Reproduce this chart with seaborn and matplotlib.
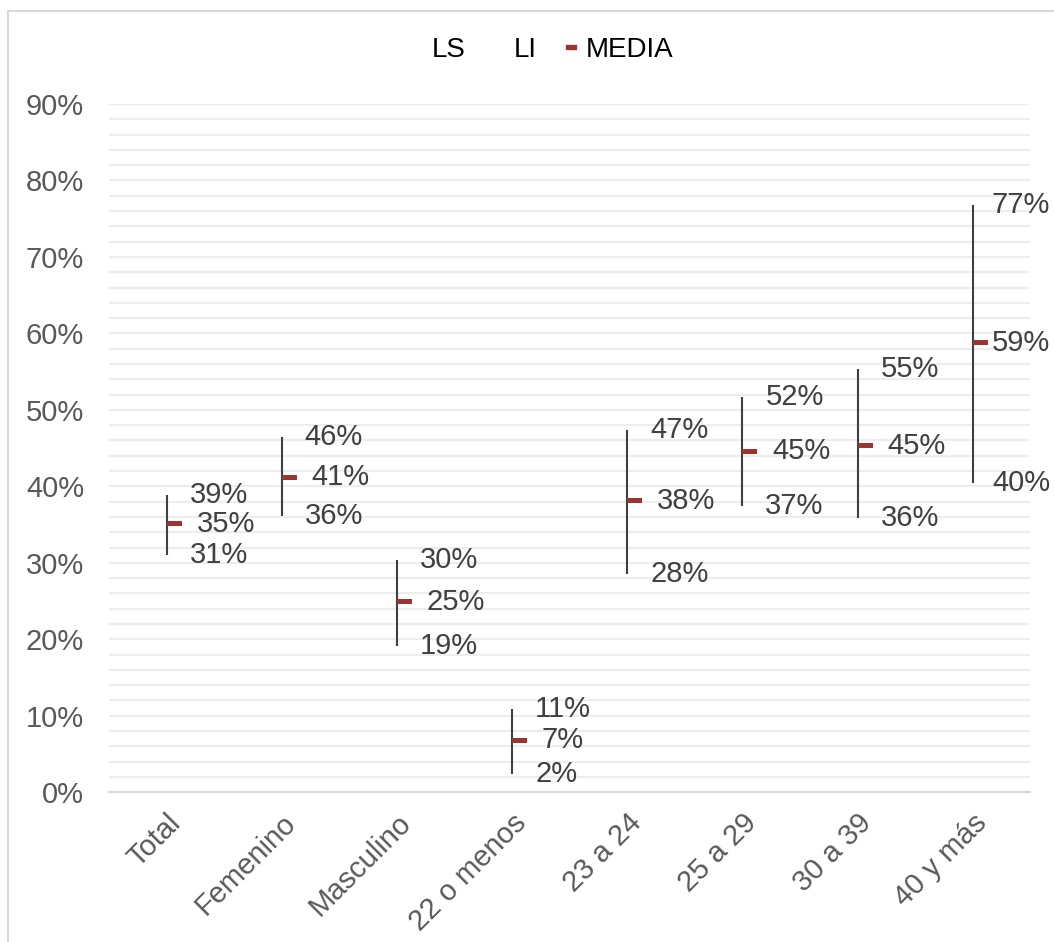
import numpy as np
import pandas as pd
import seaborn as sns
import matplotlib.pyplot as plt
from matplotlib.lines import Line2D
from matplotlib.ticker import MultipleLocator, FuncFormatter

categorias = ['Total', 'Femenino', 'Masculino', '22 o menos', '23 a 24', '25 a 29', '30 a 39', '40 y más']
ls = [0.389, 0.465, 0.304, 0.109, 0.474, 0.517, 0.553, 0.768]
li = [0.310, 0.361, 0.191, 0.024, 0.285, 0.374, 0.359, 0.404]
media = [0.351, 0.412, 0.249, 0.068, 0.381, 0.446, 0.453, 0.588]

df = pd.DataFrame({'cat': categorias, 'LS': ls, 'LI': li, 'MEDIA': media})

sns.set_theme(style='white')
plt.rcParams['font.family'] = ['Liberation Sans', 'DejaVu Sans']

fig = plt.figure(figsize=(10.54, 9.42), dpi=100)
ax = fig.add_axes([0.1035, 0.159, 0.874, 0.7306])

rojo = '#9B3533'
gris_linea = '#404040'
x = np.arange(len(categorias))

# lineas de maximo-minimo
ax.vlines(x, df['LI'], df['LS'], color=gris_linea, linewidth=1.5, zorder=3)

# marcador de la media (guion hacia la derecha de la linea)
guion = [(0, -0.16), (1, -0.16), (1, 0.16), (0, 0.16), (0, -0.16)]
sns.scatterplot(x=x, y=df['MEDIA'], marker=guion, s=470, color=rojo,
                edgecolor='none', ax=ax, zorder=4, legend=False)

# etiquetas
textos = []
for i, row in df.iterrows():
    for col, dx in (('LS', 16.5), ('LI', 16.5), ('MEDIA', 21.5)):
        t = ax.annotate(f"{row[col] * 100:.0f}%", (i, row[col]), xytext=(dx, 0),
                        textcoords='offset points', ha='left', va='center',
                        fontsize=21, color='#404040', zorder=5)
        textos.append(t)

ax.set_xlim(-0.5, len(categorias) - 0.5)
ax.set_ylim(0, 0.9)
ax.yaxis.set_major_locator(MultipleLocator(0.1))
ax.yaxis.set_minor_locator(MultipleLocator(0.02))
ax.yaxis.set_major_formatter(FuncFormatter(lambda v, p: f"{v * 100:.0f}%"))
ax.grid(which='both', axis='y', color='#EDEDED', linewidth=1.6)
ax.set_axisbelow(True)
for s in ('top', 'right', 'left'):
    ax.spines[s].set_visible(False)
ax.spines['bottom'].set_color('#D9D9D9')
ax.spines['bottom'].set_linewidth(1.6)

ax.set_xticks(x)
ax.set_xticklabels(categorias, rotation=45, ha='right', va='top', rotation_mode='anchor')
ax.tick_params(axis='x', length=0, pad=12, labelsize=21, labelcolor='#595959')
ax.tick_params(axis='y', which='both', length=0, pad=18, labelsize=21, labelcolor='#595959')
ax.set_xlabel('')
ax.set_ylabel('')

handles = [Line2D([], [], linestyle='none'),
           Line2D([], [], linestyle='none'),
           Line2D([], [], linestyle='none', color=rojo,
                  marker=[(-1.5, -0.5), (1.5, -0.5), (1.5, 0.5), (-1.5, 0.5), (-1.5, -0.5)],
                  markersize=6.5)]
fig.legend(handles, ['LS', 'LI', 'MEDIA'], loc='center', bbox_to_anchor=(0.514, 0.947),
           ncol=3, frameon=False, fontsize=20, handlelength=0.45, handletextpad=0.3,
           columnspacing=1.0, labelcolor='black')

# mantener etiquetas dentro del grafico
fig.canvas.draw()
r = fig.canvas.get_renderer()
W = fig.bbox.width
for t in textos:
    bb = t.get_window_extent(r)
    if bb.x1 > W - 4:
        dx, dy = t.xyann
        t.xyann = (dx - (bb.x1 - (W - 4)) * 72 / fig.dpi, dy)

# borde del grafico
fig.add_artist(Line2D([8 / 1054, 8 / 1054], [0, 1 - 11 / 942], color='#D9D9D9', linewidth=1.5))
fig.add_artist(Line2D([8 / 1054, 1], [1 - 11 / 942, 1 - 11 / 942], color='#D9D9D9', linewidth=1.5))

fig.savefig('out.png', dpi=100)
